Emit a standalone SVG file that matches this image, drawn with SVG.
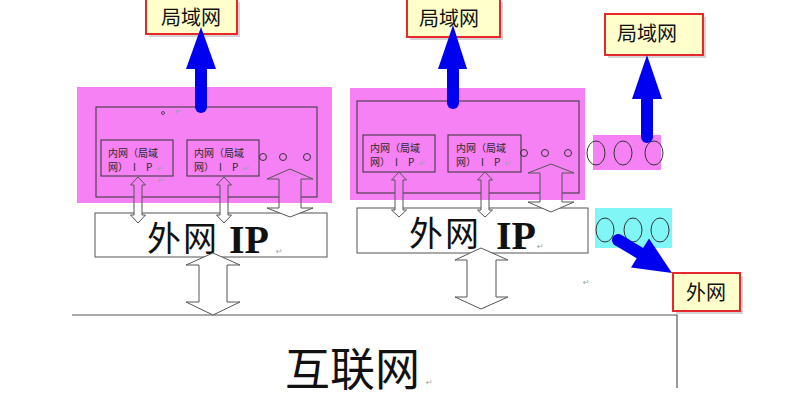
<svg xmlns="http://www.w3.org/2000/svg" width="801" height="409" viewBox="0 0 801 409">
<style>
.lbl{fill:#ffffcc;stroke:#e8282a;stroke-width:2}
.shadow{fill:#b8b8b8;opacity:.6}
.cjk{font-family:"Noto Sans CJK SC","Noto Sans",sans-serif;fill:#111}
.small{font-family:"Noto Sans CJK SC","Noto Sans",sans-serif;font-size:10px;fill:#2a2a2a}
.ret{font-family:"DejaVu Sans",sans-serif;font-size:8px;fill:#a0a0a0}
.ip{font-family:"Liberation Serif",serif;font-weight:bold;fill:#111}
.pink{fill:#f581f5}
.cyan{fill:#80f6f6}
.frame{fill:none;stroke:#333;stroke-width:1}
.wbox{fill:#fff;stroke:#555;stroke-width:1}
.dbl{stroke:#555;stroke-width:1;stroke-linejoin:miter}
.oval{fill:none;stroke:#333;stroke-width:1}
.shaft{stroke:#0000f0;stroke-width:12;stroke-linecap:round;fill:none}
.head{fill:#0000f0}
.line{stroke:#555;stroke-width:1.2;fill:none}
</style>
<defs>
<linearGradient id="gL" gradientUnits="userSpaceOnUse" x1="0" y1="0" x2="0" y2="409">
<stop offset="0" stop-color="#f581f5"/><stop offset="0.4963" stop-color="#f581f5"/><stop offset="0.4963" stop-color="#fff"/><stop offset="1" stop-color="#fff"/>
</linearGradient>
<linearGradient id="gR" gradientUnits="userSpaceOnUse" x1="0" y1="0" x2="0" y2="409">
<stop offset="0" stop-color="#f581f5"/><stop offset="0.489" stop-color="#f581f5"/><stop offset="0.489" stop-color="#fff"/><stop offset="1" stop-color="#fff"/>
</linearGradient>
</defs>
<rect width="801" height="409" fill="#fff"/>

<!-- bottom internet area -->
<g id="internet">
<path class="line" d="M72 315 H677 V388"/>
<text class="cjk" x="285" y="386" font-size="45">互联网</text>
<text class="ret" x="426" y="385">↵</text>
<text class="ret" x="583" y="285">↵</text>
</g>

<!-- left router -->
<g id="router-left">
<rect class="pink" x="77" y="87" width="255" height="116"/>
<rect class="frame" x="96" y="107" width="221" height="90"/>
<circle cx="163" cy="113" r="1.5" fill="none" stroke="#333" stroke-width="0.8"/>
<text class="ret" x="175" y="114">↵</text>
<text class="ret" x="158" y="183">↵</text>
<g id="lan-ip-l1">
<rect class="frame" x="101" y="140" width="72" height="36"/>
<text class="small" x="108" y="157">内网（局域</text>
<text class="small" x="108" y="171">网）<tspan x="133">I</tspan><tspan x="146">P</tspan><tspan class="ret" x="157">↵</tspan></text>
</g>
<g id="lan-ip-l2">
<rect class="frame" x="187" y="140" width="72" height="36"/>
<text class="small" x="194" y="157">内网（局域</text>
<text class="small" x="194" y="171">网）<tspan x="219">I</tspan><tspan x="232">P</tspan><tspan class="ret" x="243">↵</tspan></text>
</g>
<circle class="oval" cx="263" cy="157" r="3.5"/>
<circle class="oval" cx="283" cy="157" r="3.5"/>
<circle class="oval" cx="307" cy="157" r="3.5"/>
</g>

<!-- right router -->
<g id="router-right">
<rect class="pink" x="350" y="88" width="235" height="112"/>
<rect class="frame" x="357" y="101" width="222" height="92"/>
<g id="lan-ip-r1">
<rect class="frame" x="363" y="135" width="72" height="37"/>
<text class="small" x="370" y="152">内网（局域</text>
<text class="small" x="370" y="166">网）<tspan x="395">I</tspan><tspan x="408">P</tspan><tspan class="ret" x="419">↵</tspan></text>
</g>
<g id="lan-ip-r2">
<rect class="frame" x="448" y="135" width="73" height="37"/>
<text class="small" x="456" y="152">内网（局域</text>
<text class="small" x="456" y="166">网）<tspan x="481">I</tspan><tspan x="494">P</tspan><tspan class="ret" x="505">↵</tspan></text>
</g>
<circle class="oval" cx="524" cy="153" r="3.5"/>
<circle class="oval" cx="545" cy="153" r="3.5"/>
<circle class="oval" cx="568" cy="153" r="3.5"/>
</g>

<!-- external IP boxes -->
<g id="wan-ip-left">
<rect class="wbox" x="95" y="213" width="232" height="44"/>
<text class="cjk" x="147" y="251" font-size="34" letter-spacing="2">外网</text>
<text class="ip" x="229" y="253" font-size="40">IP</text>
<text class="ret" x="276" y="254" font-size="6">↵</text>
</g>
<g id="wan-ip-right">
<rect class="wbox" x="357" y="208" width="231" height="45"/>
<text class="cjk" x="409" y="246" font-size="34" letter-spacing="2">外网</text>
<text class="ip" x="496" y="249" font-size="40">IP</text>
<text class="ret" x="537" y="249" font-size="6">↵</text>
</g>

<!-- third device (ports) -->
<g id="ports-lan">
<rect class="pink" x="593" y="135" width="68" height="35"/>
<ellipse class="oval" cx="596" cy="153" rx="9" ry="12"/>
<ellipse class="oval" cx="623" cy="153" rx="9" ry="12"/>
<ellipse class="oval" cx="654" cy="153" rx="9" ry="12"/>
</g>
<g id="ports-wan">
<rect class="cyan" x="595" y="208" width="77" height="40"/>
<ellipse class="oval" cx="605" cy="230" rx="9" ry="12"/>
<ellipse class="oval" cx="633" cy="230" rx="9" ry="12"/>
<ellipse class="oval" cx="660" cy="230" rx="9" ry="12"/>
</g>

<!-- labels -->
<g id="lan-label-1">
<rect class="shadow" x="149" y="2" width="91" height="35"/>
<rect class="lbl" x="146" y="-1" width="91" height="35"/>
<text class="cjk" x="191" y="25" font-size="20" text-anchor="middle">局域网</text>
</g>
<g id="lan-label-2">
<rect class="shadow" x="410" y="2" width="93" height="38"/>
<rect class="lbl" x="407" y="-1" width="93" height="38"/>
<text class="cjk" x="449" y="26" font-size="20" text-anchor="middle">局域网</text>
</g>
<g id="lan-label-3">
<rect class="shadow" x="608" y="17" width="98" height="41"/>
<rect class="lbl" x="605" y="14" width="98" height="41"/>
<text class="cjk" x="647" y="41" font-size="20" text-anchor="middle">局域网</text>
</g>
<g id="wan-label">
<rect class="shadow" x="676" y="276" width="67" height="38"/>
<rect class="lbl" x="673" y="273" width="67" height="38"/>
<text class="cjk" x="706" y="300" font-size="20" text-anchor="middle">外网</text>
</g>

<!-- connectors -->
<g id="connectors">
<polygon class="dbl" fill="url(#gL)" points="138,177 145.5,185 142,185 142,215 145.5,215 138,223 130.5,215 134,215 134,185 130.5,185"/>
<polygon class="dbl" fill="url(#gL)" points="224,177 231.5,185 228,185 228,215 231.5,215 224,223 216.5,215 220,215 220,185 216.5,185"/>
<polygon class="dbl" fill="url(#gL)" points="290,169 313,179 301,179 301,208 313,208 290,217 267,208 279,208 279,179 267,179"/>
<polygon class="dbl" fill="url(#gR)" points="399,172 406.5,180 403,180 403,210 406.5,210 399,217 391.5,210 395,210 395,180 391.5,180"/>
<polygon class="dbl" fill="url(#gR)" points="485,172 492.5,180 489,180 489,210 492.5,210 485,217 477.5,210 481,210 481,180 477.5,180"/>
<polygon class="dbl" fill="url(#gR)" points="551,164 574,173 562,173 562,202 574,202 551,212 528,202 540,202 540,173 528,173"/>
<polygon class="dbl" fill="#fff" points="213,253 240,265 227,265 227,302 240,302 213,315 186,302 199,302 199,265 186,265"/>
<polygon class="dbl" fill="#fff" points="481,248 508,260 496,260 496,297 508,297 481,309 455,297 467,297 467,260 455,260"/>
<line class="shaft" x1="201" y1="107" x2="201" y2="64"/>
<polygon class="head" points="201,27 216,69 186,69"/>
<line class="shaft" x1="453" y1="103" x2="453" y2="64"/>
<polygon class="head" points="453,25 467,69 438,69"/>
<line class="shaft" x1="647" y1="137" x2="647" y2="94"/>
<polygon class="head" points="647,55 662,99 632,99"/>
<line class="shaft" x1="618" y1="240" x2="643" y2="255"/>
<polygon class="head" points="672,273 631,267.5 649,238.5"/>
</g>
</svg>
